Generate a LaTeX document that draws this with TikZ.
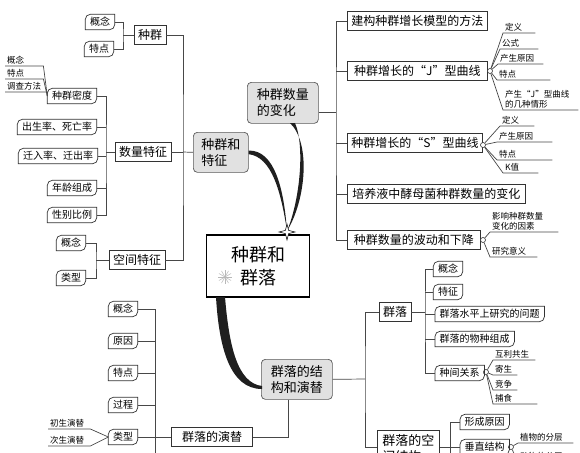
\documentclass[tikz,border=0pt]{standalone}
\usepackage{fontspec}
\newfontfamily\cjk{Noto Sans CJK SC}
\definecolor{topicfill}{HTML}{E1E1E1}
\definecolor{linkgray}{HTML}{474747}
\definecolor{raygray}{HTML}{B8B8B8}
\tikzset{
  link/.style={draw=linkgray, line width=0.7pt},
  box/.style={draw=black!80, line width=0.8pt, fill=white, font=\cjk\fontsize{12}{14}\selectfont, inner xsep=4pt, inner ysep=2pt, minimum height=19pt},
  leaf/.style={font=\cjk\fontsize{10}{12}\selectfont, inner xsep=4.5pt, inner ysep=1.5pt, minimum height=15pt},
  leafline/.style={draw=black!80, line width=0.7pt},
  topic/.style={draw=black!65, line width=0.7pt, fill=topicfill, rounded corners=4pt, font=\cjk\fontsize{13}{16}\selectfont, align=left, anchor=north west},
  tiny/.style={font=\cjk\fontsize{8.5}{10}\selectfont, anchor=south west, align=left, inner xsep=2pt, inner ysep=1.5pt},
  knot/.style={circle, draw=black!80, line width=0.6pt, fill=white, inner sep=0pt, minimum size=5pt},
  brush/.style={fill=black!88}
}
\newcommand\leaf[1]{\draw[leafline] (#1.south west) -- ([yshift=-5pt]#1.north west) arc[start angle=180, end angle=90, radius=5pt] -- (#1.north east) -- ([yshift=5pt]#1.south east) arc[start angle=0, end angle=-90, radius=5pt] -- cycle;}

\begin{document}
\begin{tikzpicture}[x=1pt,y=-1pt]
\useasboundingbox (0,0) rectangle (580,452);
\clip (0,0) rectangle (580,452);
% root
\node[draw=black, line width=1.1pt, fill=white, minimum width=103pt, minimum height=62pt, align=center, font=\cjk\fontsize{18}{23}\selectfont] (root) at (258,266) {种群和\\群落};
\foreach \a in {0,30,...,330} \draw[raygray, line width=0.5pt] (225,277) -- ++(\a:7pt);
% population: features
\node[box] (zq) at (150,35) {种群};
\node[leaf] (zqgn) at (100,22) {概念};
\node[leaf] (zqtd) at (99,49) {特点};
\node[box] (sltz) at (143,152) {数量特征};
\node[leaf] (mdu) at (72,96) {种群密度};
\node[leaf] (csl) at (57,127) {出生率、死亡率};
\node[leaf] (qrl) at (58,156) {迁入率、迁出率};
\node[leaf] (nl) at (72,188) {年龄组成};
\node[leaf] (xb) at (72,215) {性别比例};
\node[tiny, text width=34pt] (mgn) at (5,66) {概念};
\node[tiny, text width=34pt] (mtd) at (5,79) {特点};
\node[tiny, text width=38pt] (mff) at (5,92) {调查方法};
\node[box] (kjtz) at (137,260) {空间特征};
\node[leaf] (kjgn) at (71,243) {概念};
\node[leaf] (kjlx) at (71,278) {类型};
\node[topic, minimum width=55pt, minimum height=40pt] (zqtz) at (193,132) {种群和\\特征};
% population: numbers
\node[topic, minimum width=71pt, minimum height=41pt] (slbh) at (247,82) {种群数量\\的变化};
\node[box, anchor=west, minimum width=140pt] (jg) at (347,21) {建构种群增长模型的方法};
\node[box, anchor=west, minimum width=140pt] (jx) at (347,71) {种群增长的“J”型曲线};
\node[box, anchor=west, minimum width=133pt] (sx) at (347,143) {种群增长的“S”型曲线};
\node[box, anchor=west, minimum width=178pt] (py) at (347,194) {培养液中酵母菌种群数量的变化};
\node[box, anchor=west, minimum width=133pt] (bd) at (347,240) {种群数量的波动和下降};
\node[knot] (jc) at (490,71) {};
\node[knot] (sc) at (483,145) {};
\node[knot] (bc) at (483,240) {};
\node[tiny, text width=28pt] (jdy) at (503,33) {定义};
\node[tiny, text width=34pt] (jgs) at (500,49) {公式};
\node[tiny, text width=41pt] (jyy) at (498,64) {产生原因};
\node[tiny, text width=49pt] (jtd) at (497,80) {特点};
\node[tiny, text width=71pt] (jqx) at (503,110) {产生“J”型曲线\\的几种情形};
\node[tiny, text width=30pt] (sdy) at (500,126) {定义};
\node[tiny, text width=51pt] (syy) at (497,142) {产生原因};
\node[tiny, text width=51pt] (std) at (497,160) {特点};
\node[tiny, text width=31pt] (skz) at (503,173) {K值};
\node[tiny, text width=64pt] (bdys) at (490,232) {影响种群数量\\变化的因素};
\node[tiny, text width=43pt] (bdyy) at (490,257) {研究意义};
% community
\node[topic, minimum width=71pt, minimum height=40pt] (jgyt) at (261,359) {群落的结\\构和演替};
\node[box] (ql) at (395,312) {群落};
\node[leaf] (qlgn) at (448,269) {概念};
\node[leaf] (qltz) at (448,292) {特征};
\node[leaf, anchor=west] (qlsp) at (435,314) {群落水平上研究的问题};
\node[leaf, anchor=west] (qlwz) at (435,339) {群落的物种组成};
\node[leaf, anchor=west] (zjgx) at (435,373) {种间关系};
\node[knot] (zc) at (486,372) {};
\node[tiny, text width=38pt] (hl) at (493,360) {互利共生};
\node[tiny, text width=20pt] (jsh) at (493,375) {寄生};
\node[tiny, text width=20pt] (jz) at (493,390) {竞争};
\node[tiny, text width=40pt] (bs) at (493,404) {捕食};
\node[box, anchor=north west, align=left, inner xsep=5pt, inner ysep=4pt, font=\cjk\fontsize{13}{16}\selectfont] (kjjg) at (377,430) {群落的空\\间结构};
\node[leaf, anchor=west] (xcyy) at (460,422) {形成原因};
\node[leaf, anchor=west] (czjg) at (460,447) {垂直结构};
\node[knot] (cc) at (511,447) {};
\node[tiny, text width=51pt] (zwfc) at (518,443) {植物的分层};
\node[tiny, text width=51pt] (dwfc) at (518,462) {动物的分层};
\node[box, minimum width=81pt] (yt) at (212,437) {群落的演替};
\node[leaf] (ytgn) at (123,309) {概念};
\node[leaf] (ytyy) at (123,341) {原因};
\node[leaf] (yttd) at (123,373) {特点};
\node[leaf] (ytgc) at (123,405) {过程};
\node[leaf] (ytlx) at (123,437) {类型};
\node[tiny, text width=38pt] (csyt) at (48,429) {初生演替};
\node[tiny, text width=38pt] (cisyt) at (48,446) {次生演替};
% leaf outlines
\foreach \n in {zqgn,zqtd,mdu,csl,qrl,nl,xb,kjgn,kjlx,qlgn,qltz,qlsp,qlwz,zjgx,xcyy,czjg,ytgn,ytyy,yttd,ytgc,ytlx} \leaf{\n}
% junctions
\coordinate (zqj) at (123,35);
\coordinate (zqsp) at (183,152);
\coordinate (slj) at (106,152);
\coordinate (kjj) at (96,260);
\coordinate (slbhj) at (336,112);
\coordinate (jgytj) at (365,379);
\coordinate (qlj) at (425,312);
\coordinate (kjjgj) at (450,447);
\coordinate (ytj) at (288,437);
\coordinate (ytsp) at (155,437);
% population connectors
\draw[link] (zqgn.east) -| (zqj) |- (zqtd.east);
\draw[link] (zqj) -- (zq.west);
\draw[link] (zq.east) -| (zqsp) |- (kjtz.east);
\draw[link] (zqsp) -- (zqtz.west);
\draw[link] (sltz.east) -- (zqsp);
\draw[link] (mdu.east) -| (slj) |- (xb.east);
\foreach \n in {csl,qrl,nl} \draw[link] (\n.east) -- (\n.east -| slj);
\draw[link] (slj) -- (sltz.west);
\foreach \n in {mgn,mtd,mff} \draw[link] (mdu.west) -- (\n.south east) -- (\n.south west);
\draw[link] (kjgn.east) -| (kjj) |- (kjlx.east);
\draw[link] (kjj) -- (kjtz.west);
\draw[link] (slbh.east |- slbhj) -- (slbhj);
\draw[link] (jg.west) -| (slbhj) |- (bd.west);
\foreach \n in {jx,sx,py} \draw[link] (\n.west) -- (\n.west -| slbhj);
\draw[link] (jx.east) -- (jc);
\draw[link] (sx.east) -- (sc);
\draw[link] (bd.east) -- (bc);
\foreach \n in {jdy,jgs,jyy,jtd,jqx} \draw[link] (jc) -- (\n.south west) -- (\n.south east);
\foreach \n in {sdy,syy,std,skz} \draw[link] (sc) -- (\n.south west) -- (\n.south east);
\foreach \n in {bdys,bdyy} \draw[link] (bc) -- (\n.south west) -- (\n.south east);
% community connectors
\draw[link] (jgyt.east) -- (jgytj);
\draw[link] (ql.west) -| (jgytj) |- ([yshift=-17pt]kjjg.north west);
\draw[link] (ql.east) -- (qlj);
\draw[link] (qlgn.west) -| (qlj) |- (zjgx.west);
\foreach \n in {qltz,qlsp,qlwz} \draw[link] (\n.west) -- (\n.west -| qlj);
\draw[link] (zjgx.east) -- (zc);
\foreach \n in {hl,jsh,jz,bs} \draw[link] (zc) -- (\n.south west) -- (\n.south east);
\draw[link] (kjjg.east |- kjjgj) -- (kjjgj);
\draw[link] (xcyy.west) -| (kjjgj) -- (czjg.west);
\draw[link] (kjjgj) -- ++(0,15);
\draw[link] (czjg.east) -- (cc);
\foreach \n in {zwfc,dwfc} \draw[link] (cc) -- (\n.south west) -- (\n.south east);
\draw[link] (ytj |- jgyt.south) -- (ytj) -- (yt.east);
\draw[link] (ytgn.east) -| (ytsp) -- (yt.west);
\draw[link] (ytsp) -- ++(0,20);
\foreach \n in {ytyy,yttd,ytgc,ytlx} \draw[link] (\n.east) -- (\n.east -| ytsp);
\foreach \n in {csyt,cisyt} \draw[link] (ytlx.west) -- (\n.south east) -- (\n.south west);
% brush curves into the root
\fill[brush] (zqtz.east) ++(0,-1.8) .. controls (275,150) and (284,190) .. (287,231) .. controls (281,192) and (272,157) .. ([yshift=-1.8pt]zqtz.east) -- cycle;
\fill[brush] (290,123) .. controls (311,143) and (306,200) .. (287,231) .. controls (300,200) and (305,146) .. (295,123) -- cycle;
\fill[brush] (216,297) .. controls (219,348) and (230,389) .. (262,389) -- (262,386) .. controls (237,383) and (229,345) .. (225,297) -- cycle;
\filldraw[fill=white, draw=black, line width=0.5pt] (287,224) -- (288.6,230.4) -- (295,232) -- (288.6,233.6) -- (287,240) -- (285.4,233.6) -- (279,232) -- (285.4,230.4) -- cycle;
\end{tikzpicture}
\end{document}
